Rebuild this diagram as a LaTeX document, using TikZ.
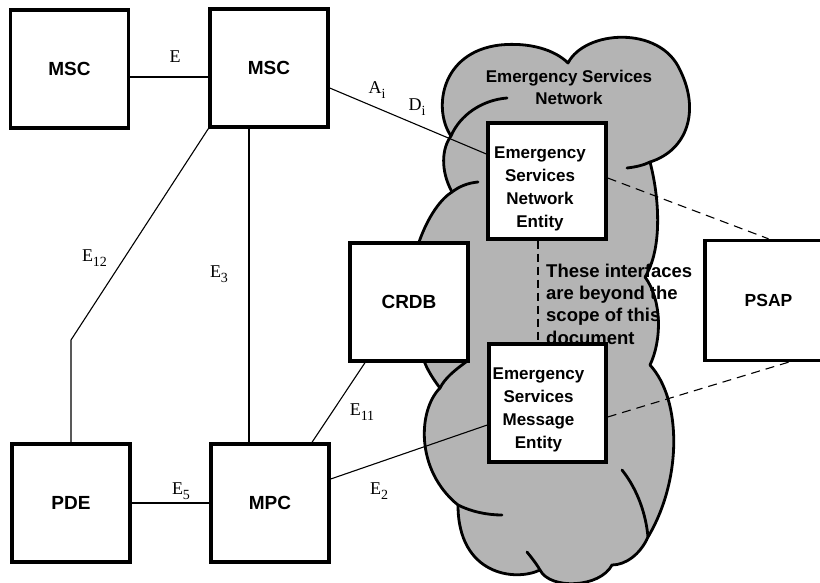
\documentclass[tikz,border=0pt]{standalone}
\usepackage{fontspec}
\setmainfont{Liberation Serif}
\newfontfamily\arialfont{Liberation Sans}
\usetikzlibrary{calc}
\newcommand{\lsub}[1]{\raisebox{-5pt}{\fontsize{14}{14}\selectfont #1}}
\definecolor{cloudgray}{RGB}{180,180,180}
\begin{document}
\begin{tikzpicture}[x=1pt,y=-1pt,
 box/.style={draw, line width=3.4pt, fill=white, minimum width=118pt, minimum height=118pt, inner sep=0pt, font=\arialfont\bfseries\fontsize{19}{22}\selectfont},
 conn/.style={line width=1.1pt},
 dashconn/.style={line width=1.1pt, dash pattern=on 9pt off 6pt},
 elabel/.style={inner sep=0pt, font=\fontsize{18}{20}\selectfont},
 cloudline/.style={line width=2.8pt, line cap=round, line join=round},
 entity/.style={align=center, inner sep=0pt, font=\arialfont\bfseries\fontsize{17}{23}\selectfont}
]
\useasboundingbox (0,0) rectangle (820,583);
\clip (0,0) rectangle (820,583);

% cloud
\filldraw[fill=cloudgray, cloudline] (568,63) .. controls (585,30) and (660,25) .. (680,70)
 .. controls (700,110) and (688,150) .. (650,162)
 .. controls (660,200) and (662,250) .. (645,277)
 .. controls (662,300) and (662,340) .. (650,365)
 .. controls (682,400) and (682,480) .. (648,537)
 .. controls (640,555) and (625,565) .. (612,565)
 .. controls (600,588) and (550,590) .. (540,570)
 .. controls (515,582) and (458,575) .. (458,505)
 .. controls (415,470) and (418,410) .. (440,388)
 .. controls (430,375) and (425,365) .. (422,355)
 -- (418,245)
 .. controls (428,215) and (442,198) .. (452,192)
 .. controls (440,170) and (442,148) .. (451,136)
 .. controls (433,110) and (440,52) .. (500,45)
 .. controls (530,42) and (555,50) .. (568,63) -- cycle;
\draw[cloudline] (507,98) .. controls (482,100) and (460,115) .. (451,136);
\draw[cloudline] (452,192) .. controls (460,186) and (468,183) .. (478,182);
\draw[cloudline] (627,168) .. controls (636,167) and (644,165) .. (650,162);
\draw[cloudline] (466,362) .. controls (455,370) and (445,378) .. (440,388);
\draw[cloudline] (458,505) .. controls (472,512) and (488,515) .. (502,515);
\draw[cloudline] (527,552) .. controls (531,557) and (536,563) .. (540,570);
\draw[cloudline] (622,470) .. controls (638,490) and (646,515) .. (648,537);

\node[align=center, inner sep=0pt, font=\arialfont\bfseries\fontsize{17}{22}\selectfont] (esn) at (569,87) {Emergency Services\\Network};

\node[anchor=north west, align=left, inner sep=0pt, font=\arialfont\bfseries\fontsize{18.5}{22.3}\selectfont] (note) at (546,263.5) {These interfaces\\are beyond the\\scope of this\\document};

% boxes
\node[box] (msc1) at (69.5,69) {MSC};
\node[box] (msc2) at (269,68) {MSC};
\node[box] (pde) at (71,503) {PDE};
\node[box] (mpc) at (270,503) {MPC};
\node[box] (crdb) at (409,302) {CRDB};
\node[box, minimum width=127pt, minimum height=120pt, font=\arialfont\bfseries\fontsize{17.5}{20}\selectfont] (psap) at (768.5,300.5) {PSAP};
\node[box, minimum height=116pt, label={[entity, xshift=-7pt, yshift=-8pt]center:{Emergency\\Services\\Network\\Entity}}] (esne) at (547,181) {};
\node[box, minimum width=117pt, label={[entity, xshift=-9pt, yshift=-7pt]center:{Emergency\\Services\\Message\\Entity}}] (esme) at (547.5,403) {};

% connectors
\coordinate (bend) at (71,340);
\draw[conn] ([yshift=-8pt]msc1.east) -- ([yshift=-8pt]msc1.east -| msc2.west);
\draw[conn] ([yshift=-20pt]msc2.east) -- ([yshift=27pt]esne.west);
\draw[conn] (msc2.south west) -- (bend) -- (pde.north);
\draw[conn] ([xshift=-20pt]msc2.south) -- ([xshift=-20pt]msc2.south |- mpc.north);
\draw[conn] (pde.east) -- (pde.east -| mpc.west);
\draw[conn] ([xshift=42pt]mpc.north) -- ([xshift=-44pt]crdb.south);
\draw[conn] ([yshift=24pt]mpc.east) -- ([yshift=-22pt]esme.west);
\draw[dashconn] ([yshift=3pt]esne.east) -- (psap.north);
\draw[dashconn] ([yshift=-14pt]esme.east) -- ([xshift=20pt]psap.south);
\draw[dashconn, dash pattern=on 8pt off 5pt] ([xshift=-9pt]esne.south) -- ([xshift=-9pt]esne.south |- esme.north);

% labels
\node[elabel] (lE) at (175,57) {E};
\node[elabel] (lA) at (377,90) {A\lsub{i}};
\node[elabel] (lD) at (417,107) {D\lsub{i}};
\node[elabel] (l12) at (94.5,258) {E\lsub{12}};
\node[elabel] (l3) at (219,274) {E\lsub{3}};
\node[elabel] (l5) at (181,491) {E\lsub{5}};
\node[elabel] (l11) at (362,412) {E\lsub{11}};
\node[elabel] (l2) at (379,491) {E\lsub{2}};
\end{tikzpicture}
\end{document}
